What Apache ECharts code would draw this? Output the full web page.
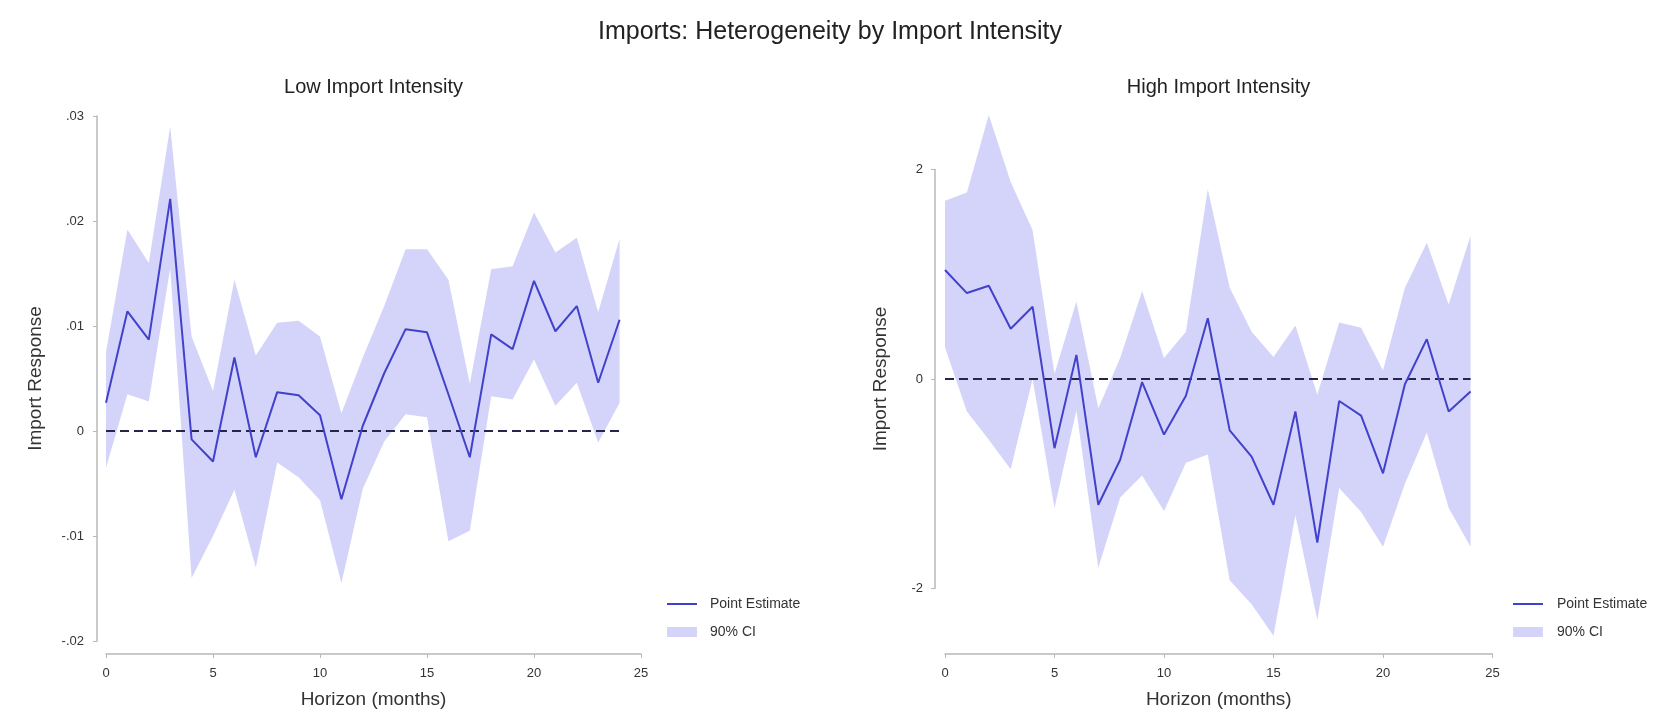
<!DOCTYPE html>
<html>
<head>
<meta charset="utf-8">
<script src="https://cdn.jsdelivr.net/npm/echarts@6/dist/echarts.min.js"></script>
<style>
html,body{margin:0;padding:0;background:#fff;}
#chart{width:1660px;height:719px;}
</style>
</head>
<body>
<div id="chart"></div>
<script>
// ---------- data ----------
const horizon = [0,1,2,3,4,5,6,7,8,9,10,11,12,13,14,15,16,17,18,19,20,21,22,23,24];

const lowPoint = [0.0027, 0.0114, 0.0087, 0.0221, -0.0008, -0.0029, 0.0070, -0.0025, 0.0037, 0.0034, 0.0015, -0.0065, 0.0005, 0.0055, 0.0097, 0.0094, 0.0035, -0.0025, 0.0092, 0.0078, 0.0143, 0.0095, 0.0119, 0.0046, 0.0106];
const lowUpper = [0.0075, 0.0192, 0.0160, 0.0290, 0.0090, 0.0038, 0.0144, 0.0072, 0.0103, 0.0105, 0.0090, 0.0017, 0.0070, 0.0119, 0.0173, 0.0173, 0.0144, 0.0045, 0.0154, 0.0157, 0.0208, 0.0170, 0.0184, 0.0113, 0.0183];
const lowLower = [-0.0035, 0.0035, 0.0028, 0.0155, -0.0140, -0.0100, -0.0056, -0.0130, -0.0030, -0.0044, -0.0066, -0.0145, -0.0055, -0.0010, 0.0016, 0.0013, -0.0105, -0.0095, 0.0033, 0.0030, 0.0068, 0.0024, 0.0046, -0.0011, 0.0027];

const highPoint = [1.04, 0.82, 0.89, 0.48, 0.69, -0.66, 0.23, -1.20, -0.77, -0.03, -0.53, -0.16, 0.58, -0.49, -0.74, -1.20, -0.31, -1.56, -0.21, -0.35, -0.90, -0.05, 0.38, -0.31, -0.12];
const highUpper = [1.70, 1.78, 2.52, 1.88, 1.42, 0.05, 0.74, -0.28, 0.20, 0.84, 0.20, 0.45, 1.81, 0.87, 0.45, 0.21, 0.51, -0.15, 0.54, 0.49, 0.08, 0.87, 1.30, 0.71, 1.37];
const highLower = [0.30, -0.31, -0.58, -0.86, 0.00, -1.23, -0.30, -1.80, -1.13, -0.92, -1.26, -0.80, -0.72, -1.92, -2.15, -2.45, -1.30, -2.30, -1.04, -1.27, -1.60, -1.00, -0.51, -1.23, -1.60];

const zeroLine = [[0, 0], [24, 0]];

const lowYTicks = ['-.02', '-.01', '0', '.01', '.02', '.03'];
const xTicks = ['0', '5', '10', '15', '20', '25'];

const mainTitle = 'Imports: Heterogeneity by Import Intensity';
const leftTitle = 'Low Import Intensity';
const rightTitle = 'High Import Intensity';
const yName = 'Import Response';
const xName = 'Horizon (months)';
const nameLine = 'Point Estimate';
const nameBand = '90% CI';

// ---------- style ----------
const lineColor = '#4141cc';
const bandColor = '#d4d4fa';
const zeroColor = '#26264a';
const axisColor = '#b8b8b8';
const textColor = '#333333';
const FONT = '"Liberation Sans", Arial, Helvetica, sans-serif';
const lineIcon = 'path://M0,0L30,0L30,2L0,2Z';

const chart = echarts.init(document.getElementById('chart'), null, {renderer: 'canvas'});

function bandSeries(xi, yi, lower, upper) {
  return {
    type: 'custom',
    name: nameBand,
    xAxisIndex: xi,
    yAxisIndex: yi,
    z: 1,
    silent: true,
    itemStyle: {color: bandColor},
    data: horizon.map((h, i) => [h, lower[i], upper[i]]),
    encode: {x: 0, y: [1, 2]},
    renderItem: function (params, api) {
      if (params.dataIndex !== 0) return null;
      const pts = [];
      for (let i = 0; i < horizon.length; i++) pts.push(api.coord([horizon[i], upper[i]]));
      for (let i = horizon.length - 1; i >= 0; i--) pts.push(api.coord([horizon[i], lower[i]]));
      return {type: 'polygon', shape: {points: pts}, style: {fill: bandColor}};
    }
  };
}

function pointSeries(xi, yi, vals) {
  return {
    type: 'line', name: nameLine, xAxisIndex: xi, yAxisIndex: yi, z: 3,
    symbol: 'none', showSymbol: false, silent: true,
    itemStyle: {color: lineColor},
    lineStyle: {color: lineColor, width: 2},
    data: horizon.map((h, i) => [h, vals[i]])
  };
}

function zeroSeries(xi, yi) {
  return {
    type: 'line', name: 'zero', xAxisIndex: xi, yAxisIndex: yi, z: 2,
    symbol: 'none', silent: true,
    lineStyle: {color: zeroColor, width: 2, type: [9, 5]},
    data: zeroLine
  };
}

const axisLabelStyle = {color: textColor, fontSize: 13, fontFamily: FONT};
const nameStyle = {color: textColor, fontSize: 19, fontFamily: FONT};

function xAxisDef(gi) {
  return {
    type: 'value', gridIndex: gi, min: 0, max: 25, interval: 5, offset: 13,
    name: xName, nameLocation: 'middle', nameGap: 36, nameTextStyle: nameStyle,
    axisLine: {show: true, onZero: false, lineStyle: {color: axisColor, width: 1.5}},
    axisTick: {show: true, length: 4, lineStyle: {color: axisColor}},
    axisLabel: Object.assign({margin: 13, formatter: (v) => xTicks[Math.round(v / 5)]}, axisLabelStyle),
    splitLine: {show: false}
  };
}

function legendDef(left, pad) {
  return {
    left: left, top: 597, orient: 'vertical', padding: 0, itemWidth: 30, itemHeight: 10, itemGap: 14,
    selectedMode: false,
    textStyle: {color: textColor, fontSize: 14, fontFamily: FONT, padding: [0, 0, 0, pad]},
    data: [
      {name: nameLine, icon: lineIcon, itemStyle: {color: lineColor}},
      {name: nameBand, icon: 'rect', itemStyle: {color: bandColor}}
    ]
  };
}

const option = {
  animation: false,
  backgroundColor: '#ffffff',
  textStyle: {fontFamily: FONT},
  graphic: [
    {type: 'text', x: 830, y: 32, style: {text: mainTitle, textAlign: 'center', textVerticalAlign: 'middle', font: '25px ' + FONT, fill: '#222'}},
    {type: 'text', x: 373.5, y: 87, style: {text: leftTitle, textAlign: 'center', textVerticalAlign: 'middle', font: '20px ' + FONT, fill: '#222'}},
    {type: 'text', x: 1218.5, y: 87, style: {text: rightTitle, textAlign: 'center', textVerticalAlign: 'middle', font: '20px ' + FONT, fill: '#222'}}
  ],
  legend: [legendDef(667, 8), legendDef(1513, 9)],
  grid: [
    {left: 106, top: 116, width: 535, height: 525},
    {left: 945, top: 117, width: 547.5, height: 524},
    {left: 945, top: 169.4, width: 547.5, height: 419.2}
  ],
  xAxis: [
    xAxisDef(0),
    xAxisDef(1),
    {type: 'value', gridIndex: 2, min: 0, max: 25, show: false}
  ],
  yAxis: [
    {
      type: 'value', gridIndex: 0, min: -0.02, max: 0.03, interval: 0.01, offset: 9,
      name: yName, nameLocation: 'middle', nameGap: 52, nameTextStyle: nameStyle,
      axisLine: {show: true, onZero: false, lineStyle: {color: axisColor, width: 1.5}},
      axisTick: {show: true, length: 4, lineStyle: {color: axisColor}},
      axisLabel: Object.assign({margin: 13, formatter: (v) => lowYTicks[Math.round((v + 0.02) / 0.01)]}, axisLabelStyle),
      splitLine: {show: false}
    },
    {type: 'value', gridIndex: 1, min: -2.5, max: 2.5, show: false, splitLine: {show: false}},
    {
      type: 'value', gridIndex: 2, min: -2, max: 2, interval: 2, offset: 10,
      name: yName, nameLocation: 'middle', nameGap: 45, nameTextStyle: nameStyle,
      axisLine: {show: true, onZero: false, lineStyle: {color: axisColor, width: 1.5}},
      axisTick: {show: true, length: 4, lineStyle: {color: axisColor}},
      axisLabel: Object.assign({margin: 12}, axisLabelStyle),
      splitLine: {show: false}
    }
  ],
  series: [
    bandSeries(0, 0, lowLower, lowUpper),
    zeroSeries(0, 0),
    pointSeries(0, 0, lowPoint),
    bandSeries(1, 1, highLower, highUpper),
    zeroSeries(1, 1),
    pointSeries(1, 1, highPoint)
  ]
};

chart.setOption(option);
</script>
</body>
</html>
